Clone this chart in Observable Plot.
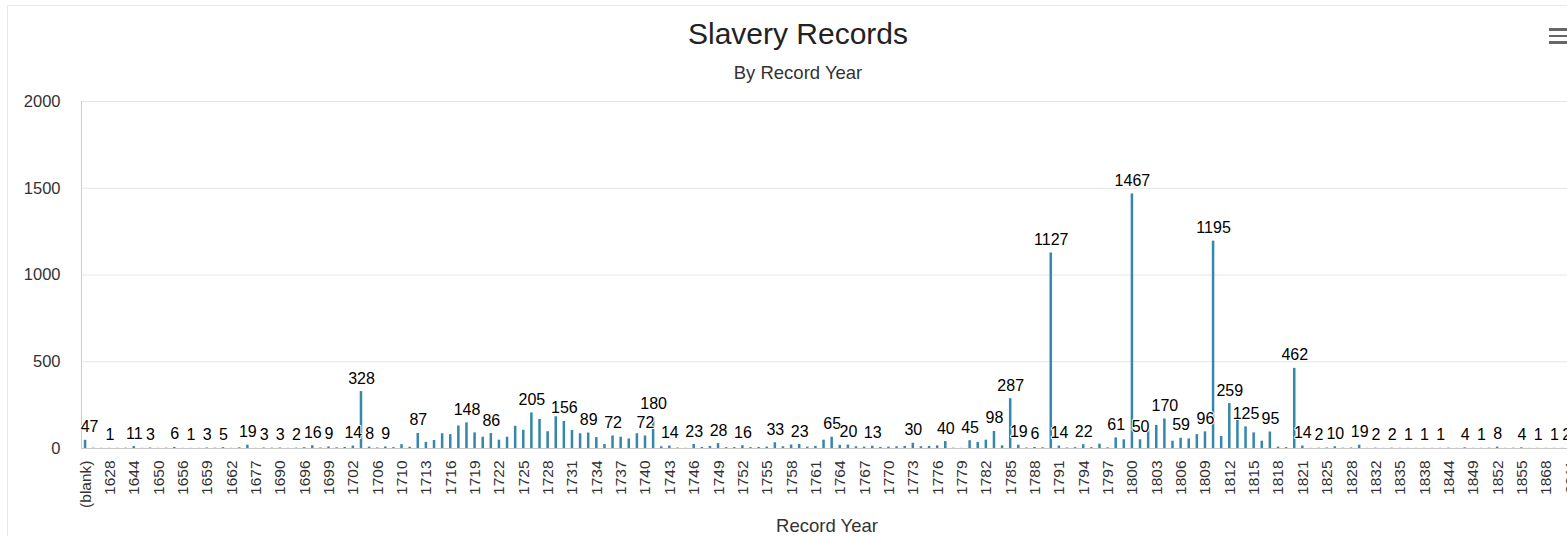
<!DOCTYPE html>
<html>
<head>
<meta charset="utf-8">
<script src="https://cdn.jsdelivr.net/npm/d3@7"></script>
<script src="https://cdn.jsdelivr.net/npm/@observablehq/plot@0.6"></script>
<style>
html, body { margin: 0; padding: 0; overflow: hidden; background: #fff; width: 1567px; height: 536px; }
body { position: relative; font-family: "Liberation Sans", Arial, Helvetica, sans-serif; }
#frame { position: absolute; left: 7px; top: 5px; width: 1620px; height: 620px; border: 1px solid #e8e8e8; box-sizing: border-box; }
#title { position: absolute; left: 0; width: 1596px; top: 17px; text-align: center; font-size: 30px; line-height: 34px; color: #222; }
#subtitle { position: absolute; left: 0; width: 1596px; top: 62px; text-align: center; font-size: 18.5px; line-height: 22px; color: #333; }
#chart { position: absolute; left: 0; top: 90px; width: 1590px; }
#chart svg { max-width: none !important; }
#xtitle { position: absolute; left: 0; width: 1654px; top: 515px; text-align: center; font-size: 18.5px; line-height: 22px; color: #333; }
#menu { position: absolute; left: 1549px; top: 28px; width: 18px; }
#menu div { height: 2.6px; background: #666; margin-bottom: 4px; }
</style>
</head>
<body>
<div id="frame"></div>
<div id="title">Slavery Records</div>
<div id="subtitle">By Record Year</div>
<div id="menu"><div></div><div></div><div></div></div>
<div id="chart"></div>
<div id="xtitle">Record Year</div>
<script>
// Categories (record years) in the order of the x axis
const years = [
  "(blank)","1620","1624","1628","1634","1640","1644","1646","1648","1650",
  "1652","1654","1656","1657","1658","1659","1660","1661","1662","1665",
  "1670","1677","1680","1685","1690","1692","1694","1696","1697","1698",
  "1699","1700","1701","1702","1703","1704","1706","1707","1708","1710",
  "1711","1712","1713","1714","1715","1716","1717","1718","1719","1720",
  "1721","1722","1723","1724","1725","1726","1727","1728","1729","1730",
  "1731","1732","1733","1734","1735","1736","1737","1738","1739","1740",
  "1741","1742","1743","1744","1745","1746","1747","1748","1749","1750",
  "1751","1752","1753","1754","1755","1756","1757","1758","1759","1760",
  "1761","1762","1763","1764","1765","1766","1767","1768","1769","1770",
  "1771","1772","1773","1774","1775","1776","1777","1778","1779","1780",
  "1781","1782","1783","1784","1785","1786","1787","1788","1789","1790",
  "1791","1792","1793","1794","1795","1796","1797","1798","1799","1800",
  "1801","1802","1803","1804","1805","1806","1807","1808","1809","1810",
  "1811","1812","1813","1814","1815","1816","1817","1818","1819","1820",
  "1821","1822","1823","1825","1826","1827","1828","1829","1830","1832",
  "1833","1834","1835","1836","1837","1838","1840","1842","1844","1846",
  "1848","1849","1850","1851","1852","1853","1854","1855","1859","1863",
  "1868","1870","1880","2011"
];

// Number of records per year (same order as years)
const counts = [
  47, 2, 1, 1, 1, 2, 11, 1, 3, 1,
  2, 6, 1, 1, 1, 3, 2, 5, 1, 4,
  19, 1, 3, 2, 3, 1, 2, 5, 16, 3,
  9, 4, 6, 14, 328, 8, 3, 9, 5, 22,
  7, 87, 35, 46, 85, 80, 130, 148, 90, 65,
  86, 48, 65, 128, 105, 205, 168, 97, 183, 156,
  104, 85, 89, 63, 23, 72, 65, 55, 85, 72,
  180, 10, 14, 3, 1, 23, 6, 12, 28, 5,
  5, 16, 5, 6, 8, 33, 10, 20, 23, 8,
  12, 48, 65, 18, 20, 10, 8, 13, 6, 8,
  10, 12, 30, 10, 12, 15, 40, 2, 1, 45,
  35, 48, 98, 15, 287, 19, 3, 6, 4, 1127,
  14, 3, 5, 22, 5, 25, 4, 61, 50, 1467,
  50, 108, 133, 170, 42, 59, 55, 80, 96, 1195,
  69, 259, 175, 125, 90, 42, 95, 8, 5, 462,
  14, 1, 2, 3, 10, 2, 3, 19, 1, 2,
  1, 2, 1, 1, 1, 1, 1, 1, 2, 1,
  4, 1, 1, 2, 8, 1, 2, 4, 1, 1,
  1, 1, 1, 2
];

// Years whose data label is visible in the chart (others are hidden by overlap)
const labeledYears = [
  "(blank)","1628","1644","1648","1654","1657","1659","1661","1670","1680",
  "1690","1694","1697","1699","1702","1703","1704","1707",
  "1712","1718","1721","1726","1730","1733","1736","1740","1741","1743","1746","1749",
  "1752","1756","1759","1763","1765","1768","1773","1777","1780","1783","1785","1786","1788",
  "1790","1791","1794","1798","1800","1801","1804","1806","1809","1810","1812","1814","1817","1820","1821",
  "1823","1826","1829","1832","1834","1836","1838","1842","1848","1850","1852","1855","1863","1870","2011"
];

const yTicks = [0, 500, 1000, 1500, 2000];
const xTicks = years.filter((d, i) => i % 3 === 0);

const rows = years.map((year, i) => ({year, count: counts[i]}));
const labelSet = new Set(labeledYears);
const firstYear = years[0];
const lastYear = years[years.length - 1];
const labelRows = rows.filter(d => labelSet.has(d.year));
const midLabels = labelRows.filter(d => d.year !== firstYear && d.year !== lastYear);
const firstLabels = labelRows.filter(d => d.year === firstYear);
const lastLabels = labelRows.filter(d => d.year === lastYear);

const barColor = "#3587ab";
const labelStyle = {
  x: "year", y: "count", text: d => String(d.count),
  lineAnchor: "bottom", dy: -8, fontSize: 16, fill: "#000",
  stroke: "#fff", strokeWidth: 2, paintOrder: "stroke"
};

const chart = Plot.plot({
  width: 1590,
  height: 446,
  marginLeft: 81,
  marginRight: 15.8,
  marginTop: 11,
  marginBottom: 88,
  style: {fontFamily: "'Liberation Sans', Arial, Helvetica, sans-serif", background: "transparent", color: "#333", overflow: "visible", maxWidth: "none"},
  x: {type: "band", domain: years, paddingInner: 0.69, paddingOuter: 0.345, round: false},
  y: {domain: [0, 2000]},
  marks: [
    Plot.gridY(yTicks, {stroke: "#e6e6e6", strokeOpacity: 1}),
    Plot.frame({anchor: "left", stroke: "#cccccc"}),
    Plot.barY(rows, {x: "year", y: "count", fill: barColor}),
    Plot.ruleY([0], {stroke: "#c8c8c8"}),
    Plot.text(midLabels, labelStyle),
    Plot.text(firstLabels, {...labelStyle, dx: 4}),
    Plot.text(lastLabels, {...labelStyle, dx: -4}),
    Plot.axisY({ticks: yTicks, tickSize: 0, tickPadding: 21, fontSize: 16.5, label: null, tickFormat: d => String(d)}),
    Plot.axisX({ticks: xTicks, tickSize: 0, tickPadding: 12, tickRotate: -90, fontSize: 15.5, label: null})
  ]
});
chart.style.maxWidth = "none";
chart.style.width = "1590px";
document.getElementById("chart").appendChild(chart);
</script>
</body>
</html>
